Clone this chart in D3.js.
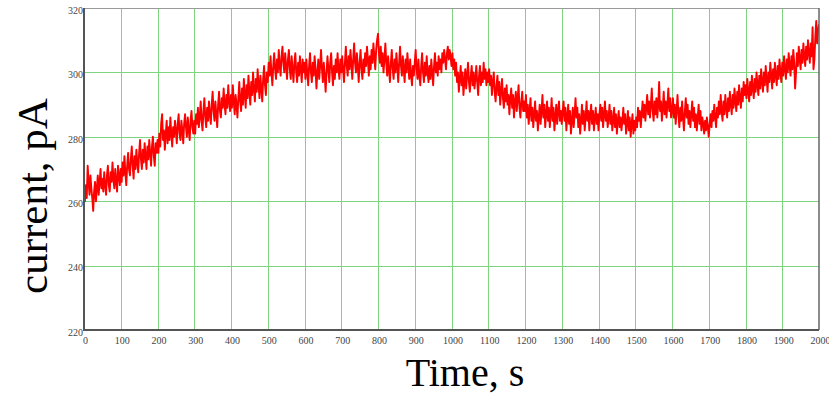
<!DOCTYPE html>
<html>
<head>
<meta charset="utf-8">
<script src="https://cdn.jsdelivr.net/npm/d3@7/dist/d3.min.js"></script>
<style>
  html, body { margin: 0; padding: 0; background: #fff; }
  svg { display: block; }
</style>
</head>
<body>
<svg id="chart" width="829" height="394"></svg>
<script>
// Sampling interval of the recorded current, seconds
const sampleStep = 2.5;

// Measured current, pA, one value every 2.5 s from 0 to 2000 s (one row per 100 s)
const current = [
  263, 260, 265, 261, 271, 266, 262, 268, 264, 261, 257, 263, 266, 260, 264, 268, 262, 266, 270, 264, 267, 263, 269, 265, 262, 268, 271, 265, 263, 269, 266, 272, 267, 264, 270, 266, 263, 271, 268, 265,
  270, 266, 272, 268, 274, 269, 265, 271, 275, 270, 268, 273, 277, 271, 267, 274, 270, 276, 272, 269, 275, 279, 273, 270, 276, 272, 278, 274, 270, 277, 273, 279, 275, 271, 277, 280, 274, 271, 278, 275,
  279, 275, 281, 277, 284, 287, 279, 282, 276, 281, 285, 278, 283, 279, 286, 281, 277, 283, 280, 285, 282, 278, 284, 287, 281, 279, 285, 282, 278, 284, 287, 283, 280, 286, 282, 279, 285, 288, 283, 281,
  285, 281, 287, 284, 289, 283, 286, 291, 285, 282, 288, 292, 286, 283, 289, 285, 291, 287, 284, 290, 294, 288, 285, 291, 287, 283, 290, 294, 288, 286, 292, 289, 295, 290, 287, 293, 289, 296, 291, 288,
  293, 289, 296, 291, 287, 293, 290, 286, 292, 297, 291, 288, 295, 290, 298, 293, 289, 296, 292, 299, 294, 290, 297, 293, 300, 295, 291, 298, 294, 301, 296, 292, 299, 295, 291, 298, 302, 296, 293, 300,
  297, 303, 299, 305, 300, 296, 302, 306, 301, 298, 304, 300, 307, 302, 299, 305, 308, 303, 300, 306, 302, 298, 304, 307, 301, 298, 305, 301, 297, 303, 306, 300, 297, 303, 299, 305, 301, 297, 304, 300,
  303, 298, 304, 300, 296, 302, 306, 300, 297, 303, 299, 305, 301, 295, 300, 304, 298, 302, 307, 301, 297, 303, 299, 294, 300, 305, 301, 297, 303, 306, 300, 296, 302, 298, 304, 300, 306, 301, 298, 304,
  300, 305, 301, 297, 303, 308, 302, 299, 305, 301, 307, 303, 298, 304, 309, 303, 300, 306, 302, 297, 303, 307, 301, 298, 304, 300, 306, 302, 308, 304, 299, 305, 301, 307, 303, 309, 305, 301, 307, 310,
  312, 306, 303, 308, 302, 306, 300, 304, 309, 303, 299, 305, 301, 297, 303, 307, 301, 298, 304, 300, 306, 302, 297, 303, 308, 302, 299, 305, 301, 297, 304, 300, 306, 302, 298, 304, 299, 296, 302, 299,
  303, 307, 301, 298, 304, 299, 296, 302, 306, 300, 297, 303, 299, 305, 300, 297, 302, 298, 304, 300, 296, 302, 306, 300, 303, 299, 305, 301, 304, 300, 306, 303, 307, 304, 301, 306, 308, 304, 307, 305,
  302, 306, 301, 304, 299, 303, 297, 300, 294, 298, 302, 296, 300, 293, 297, 301, 295, 299, 303, 297, 294, 299, 302, 296, 300, 295, 298, 302, 297, 293, 299, 302, 296, 300, 297, 303, 298, 301, 296, 300,
  297, 301, 296, 299, 293, 297, 300, 294, 291, 296, 299, 293, 297, 290, 294, 298, 292, 289, 295, 291, 296, 290, 293, 287, 292, 295, 289, 293, 286, 291, 294, 288, 292, 296, 289, 286, 291, 294, 288, 291,
  288, 293, 286, 290, 284, 288, 292, 285, 289, 283, 287, 291, 285, 288, 282, 286, 290, 284, 288, 293, 286, 290, 283, 287, 291, 285, 289, 283, 287, 292, 285, 289, 282, 286, 290, 284, 288, 291, 285, 288,
  284, 288, 291, 285, 289, 282, 286, 290, 284, 288, 281, 285, 289, 283, 287, 292, 286, 289, 283, 287, 281, 285, 290, 284, 288, 282, 286, 291, 285, 288, 282, 287, 290, 284, 288, 282, 286, 289, 284, 287,
  282, 287, 290, 285, 289, 283, 287, 291, 285, 288, 283, 286, 290, 284, 288, 282, 285, 289, 283, 287, 281, 285, 288, 283, 286, 282, 285, 289, 284, 287, 281, 284, 288, 282, 286, 280, 284, 287, 281, 285,
  282, 286, 283, 289, 285, 288, 283, 287, 291, 286, 290, 285, 289, 293, 287, 291, 286, 290, 295, 288, 285, 291, 287, 292, 286, 290, 297, 288, 291, 285, 289, 294, 287, 291, 286, 290, 295, 288, 292, 286,
  288, 292, 286, 290, 284, 288, 293, 287, 283, 289, 285, 291, 286, 282, 288, 292, 286, 290, 284, 288, 283, 287, 291, 285, 289, 283, 287, 282, 286, 290, 284, 288, 282, 286, 284, 281, 285, 282, 286, 283,
  280, 284, 287, 283, 288, 285, 290, 286, 283, 289, 286, 291, 287, 293, 288, 285, 291, 287, 293, 289, 286, 292, 288, 294, 290, 287, 293, 289, 295, 291, 288, 294, 290, 296, 292, 289, 295, 291, 297, 293,
  296, 292, 298, 294, 291, 297, 293, 299, 295, 292, 298, 294, 300, 296, 293, 299, 295, 301, 297, 294, 300, 296, 302, 298, 294, 300, 297, 303, 299, 295, 301, 297, 303, 299, 296, 302, 298, 304, 300, 297,
  303, 299, 305, 301, 298, 304, 300, 306, 302, 299, 305, 301, 307, 303, 295, 300, 306, 302, 308, 304, 301, 307, 303, 309, 305, 302, 308, 304, 310, 306, 303, 309, 305, 314, 301, 304, 311, 316, 309, 313,
  315
];

// Axis ticks
const timeTicks = d3.range(0, 2001, 100);
const currentTicks = [220, 240, 260, 280, 300, 320];

const xTitle = "Time, s";
const yTitle = "current, pA";

const svg = d3.select("#chart");
const plot = { left: 84, right: 819, top: 8, bottom: 330 };

const x = d3.scaleLinear().domain([0, 2000]).range([plot.left, plot.right]);
const y = d3.scaleLinear().domain([220, 320]).range([plot.bottom, plot.top]);

// Grid
const grid = svg.append("g").attr("stroke", "#7fd57f").attr("stroke-width", 1);
grid.selectAll("line.v").data(timeTicks.slice(1, -1)).join("line")
  .attr("x1", d => Math.round(x(d)) + 0.5).attr("x2", d => Math.round(x(d)) + 0.5)
  .attr("y1", plot.top).attr("y2", plot.bottom);
grid.selectAll("line.h").data(currentTicks.slice(1, -1)).join("line")
  .attr("y1", d => Math.round(y(d)) + 0.5).attr("y2", d => Math.round(y(d)) + 0.5)
  .attr("x1", plot.left).attr("x2", plot.right);

// Trace
svg.append("clipPath").attr("id", "clip").append("rect")
  .attr("x", plot.left).attr("y", plot.top)
  .attr("width", plot.right - plot.left).attr("height", plot.bottom - plot.top);

const line = d3.line()
  .x((d, i) => x(i * sampleStep))
  .y(d => y(d));

svg.append("path")
  .datum(current)
  .attr("clip-path", "url(#clip)")
  .attr("fill", "none")
  .attr("stroke", "#ff0000")
  .attr("stroke-width", 1.9)
  .attr("stroke-linejoin", "round")
  .attr("d", line);

// Frame
svg.append("line").attr("x1", plot.left).attr("x2", plot.right)
  .attr("y1", plot.top + 0.5).attr("y2", plot.top + 0.5)
  .attr("stroke", "#9a9a9a").attr("stroke-width", 1);
svg.append("line").attr("x1", plot.right).attr("x2", plot.right)
  .attr("y1", plot.top).attr("y2", plot.bottom)
  .attr("stroke", "#666").attr("stroke-width", 1.5);
svg.append("line").attr("x1", plot.left).attr("x2", plot.left)
  .attr("y1", plot.top).attr("y2", plot.bottom + 1)
  .attr("stroke", "#555").attr("stroke-width", 2);
svg.append("line").attr("x1", plot.left - 1).attr("x2", plot.right)
  .attr("y1", plot.bottom).attr("y2", plot.bottom)
  .attr("stroke", "#555").attr("stroke-width", 2);

// Tick labels
const tickFont = "'Liberation Serif', 'Times New Roman', serif";

const xAxis = svg.append("g")
  .attr("transform", `translate(1,${plot.bottom + 3})`)
  .call(d3.axisBottom(x).tickValues(timeTicks).tickFormat(d3.format("d")).tickSize(0).tickPadding(4));
xAxis.select(".domain").remove();
xAxis.selectAll("text")
  .attr("font-family", tickFont).attr("font-size", 10).attr("fill", "#444");

const yAxis = svg.append("g")
  .attr("transform", `translate(${plot.left - 1},2)`)
  .call(d3.axisLeft(y).tickValues(currentTicks).tickFormat(d3.format("d")).tickSize(0).tickPadding(0));
yAxis.select(".domain").remove();
yAxis.selectAll("text")
  .attr("font-family", tickFont).attr("font-size", 10).attr("fill", "#444");

// Axis titles
svg.append("text")
  .attr("x", 465).attr("y", 386)
  .attr("text-anchor", "middle")
  .attr("font-family", tickFont).attr("font-size", 40).attr("fill", "#000")
  .text(xTitle);

svg.append("text")
  .attr("transform", "translate(47,196) rotate(-90)")
  .attr("text-anchor", "middle")
  .attr("font-family", tickFont).attr("font-size", 43).attr("fill", "#000")
  .text(yTitle);
</script>
</body>
</html>
